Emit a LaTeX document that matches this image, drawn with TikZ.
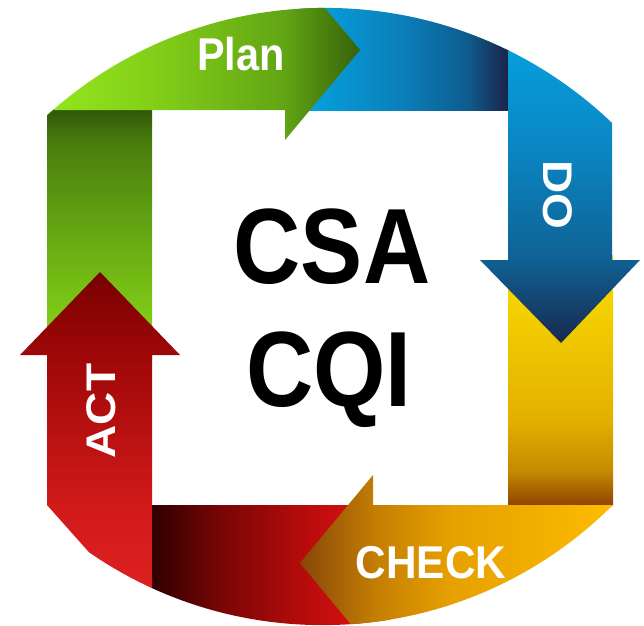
\documentclass[tikz,border=0pt]{standalone}
\usepackage{fontspec}
\setmainfont{Liberation Sans}
% green
\definecolor{gc1}{HTML}{8CDC1A}\definecolor{gc2}{HTML}{85D118}\definecolor{gc3}{HTML}{66A813}\definecolor{gc4}{HTML}{4A7F0E}\definecolor{gc5}{HTML}{30570A}
\definecolor{gb1}{HTML}{94E81C}\definecolor{gb2}{HTML}{84D019}\definecolor{gb3}{HTML}{62A514}\definecolor{gb4}{HTML}{36620A}
% blue
\definecolor{bb1}{HTML}{06A4E0}\definecolor{bb2}{HTML}{0A7EB8}\definecolor{bb3}{HTML}{0E5C8E}\definecolor{bb4}{HTML}{1B2247}
\definecolor{bc1}{HTML}{18284F}\definecolor{bc2}{HTML}{0F6294}\definecolor{bc3}{HTML}{0A86C2}\definecolor{bc4}{HTML}{05A0DE}
% yellow
\definecolor{yc1}{HTML}{8E4200}\definecolor{yc2}{HTML}{C58A00}\definecolor{yc3}{HTML}{E2B000}\definecolor{yc4}{HTML}{F4D000}\definecolor{yc5}{HTML}{F8DA00}
% check
\definecolor{cb1}{HTML}{87460A}\definecolor{cb2}{HTML}{C47E02}\definecolor{cb3}{HTML}{E6A000}\definecolor{cb4}{HTML}{FDBC00}
% red
\definecolor{rb1}{HTML}{2E0000}\definecolor{rb2}{HTML}{760505}\definecolor{rb3}{HTML}{B40B0B}\definecolor{rb4}{HTML}{DC1111}\definecolor{rb5}{HTML}{E01212}
\definecolor{rc1}{HTML}{E42424}\definecolor{rc2}{HTML}{D21A1A}\definecolor{rc3}{HTML}{A00808}\definecolor{rc4}{HTML}{780000}

\pgfdeclareverticalshading{greencol}{100bp}{color(0bp)=(gc1); color(25bp)=(gc1); color(30bp)=(gc2); color(50bp)=(gc3); color(68bp)=(gc4); color(75bp)=(gc5); color(100bp)=(gc5)}
\pgfdeclarehorizontalshading{greenband}{100bp}{color(0bp)=(gb1); color(25bp)=(gb1); color(42bp)=(gb2); color(63bp)=(gb3); color(75bp)=(gb4); color(100bp)=(gb4)}
\pgfdeclarehorizontalshading{blueband}{100bp}{color(0bp)=(bb1); color(25bp)=(bb1); color(50bp)=(bb2); color(65bp)=(bb3); color(75bp)=(bb4); color(100bp)=(bb4)}
\pgfdeclareverticalshading{bluecol}{100bp}{color(0bp)=(bc1); color(25bp)=(bc1); color(39bp)=(bc2); color(57bp)=(bc3); color(75bp)=(bc4); color(100bp)=(bc4)}
\pgfdeclareverticalshading{yellowcol}{100bp}{color(0bp)=(yc1); color(25bp)=(yc1); color(32bp)=(yc2); color(42bp)=(yc3); color(65bp)=(yc4); color(75bp)=(yc5); color(100bp)=(yc5)}
\pgfdeclarehorizontalshading{checkband}{100bp}{color(0bp)=(cb1); color(25bp)=(cb1); color(37bp)=(cb2); color(49bp)=(cb3); color(75bp)=(cb4); color(100bp)=(cb4)}
\pgfdeclarehorizontalshading{redband}{100bp}{color(0bp)=(rb1); color(25bp)=(rb1); color(39bp)=(rb2); color(56bp)=(rb3); color(71bp)=(rb4); color(75bp)=(rb5); color(100bp)=(rb5)}
\pgfdeclareverticalshading{redcol}{100bp}{color(0bp)=(rc1); color(25bp)=(rc1); color(43bp)=(rc2); color(63bp)=(rc3); color(75bp)=(rc4); color(100bp)=(rc4)}

\tikzset{
  lbl/.style={text=white, font=\fontsize{46}{48}\selectfont\bfseries, inner sep=0pt},
  big/.style={text=black, font=\fontsize{107}{110}\selectfont\bfseries, inner sep=0pt, xscale=0.87},
}

\begin{document}
\begin{tikzpicture}[x=1pt,y=-1pt]
\useasboundingbox (0,0) rectangle (644,625);
\begin{scope}
\clip (325.4,422.4) circle (414.5);
\clip (322.6,214.4) circle (410.7);
% yellow column
\shade[shading=yellowcol] (508,255) -- (613,255) -- (613,506) -- (508,506) -- cycle;
% blue band
\shade[shading=blueband] (300,-10) -- (509,-10) -- (509,110) -- (300,110) -- cycle;
% blue column with head
\shade[shading=bluecol] (508,40) -- (612,40) -- (612,260) -- (640,260) -- (561,343) -- (480,260) -- (508,260) -- cycle;
% green column
\shade[shading=greencol] (47,109) -- (152,109) -- (152,360) -- (47,360) -- cycle;
% green band with head
\shade[shading=greenband] (40,110) -- (285,110) -- (285,140) -- (360,50) -- (285,-40) -- (40,-40) -- cycle;
% red band
\shade[shading=redband] (151,505) -- (390,505) -- (390,640) -- (151,640) -- cycle;
% check band with head
\shade[shading=checkband] (613,505) -- (373,505) -- (373,475) -- (300,563) -- (373,651) -- (613,651) -- cycle;
% red column with head
\shade[shading=redcol] (47,355) -- (20,355) -- (100,272) -- (180,355) -- (152,355) -- (152,640) -- (95,640) -- (95,559) -- (47,505) -- cycle;
\end{scope}

% labels
\begin{scope}[shift={(241,54)}]
  \node[lbl, xscale=0.9] (plan) at (0,0) {Plan};
\end{scope}
\begin{scope}[shift={(558,195)}]
  \node[lbl, xscale=0.9, rotate=-90] (do) at (0,0) {DO};
\end{scope}
\begin{scope}[shift={(101,411)}]
  \node[lbl, xscale=0.9, rotate=90] (act) at (0,0) {ACT};
\end{scope}
\begin{scope}[shift={(431,563)}]
  \node[lbl, xscale=0.92] (check) at (0,0) {CHECK};
\end{scope}
\begin{scope}[shift={(332,247)}]
  \node[big] (csa) at (0,0) {CSA};
\end{scope}
\begin{scope}[shift={(329,406)}]
  \node[big, anchor=base] (cqi) at (0,0) {CQI};
\end{scope}
\end{tikzpicture}
\end{document}
